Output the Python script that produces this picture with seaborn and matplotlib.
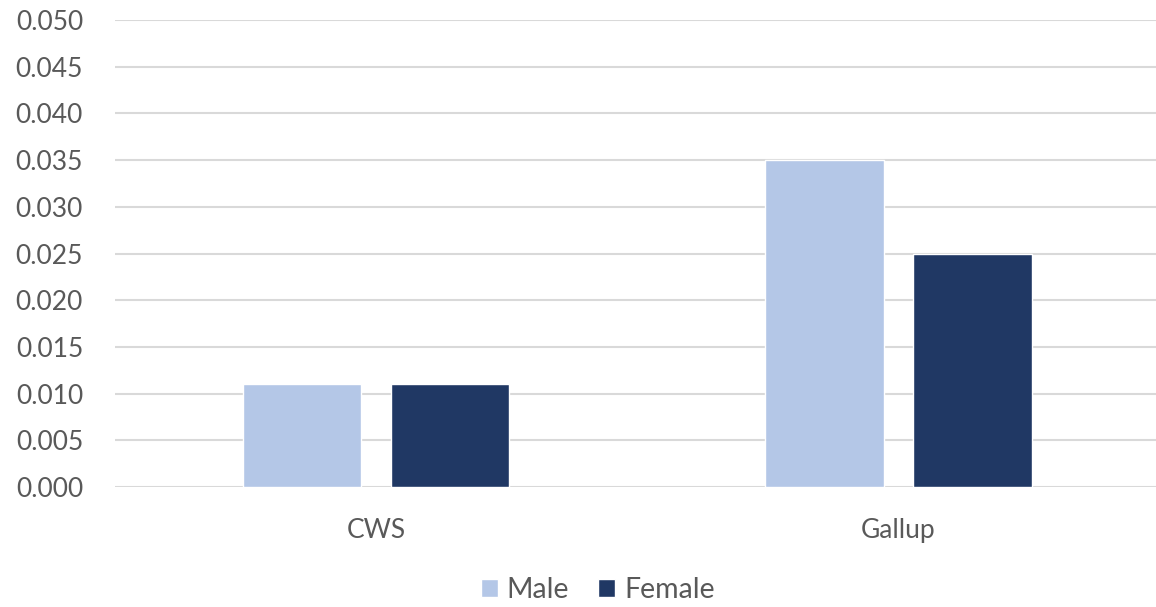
import pandas as pd
import matplotlib.pyplot as plt
import seaborn as sns

sources = ["CWS", "Gallup"]
male = [0.011, 0.035]
female = [0.011, 0.025]
yticks = [0.000, 0.005, 0.010, 0.015, 0.020, 0.025, 0.030, 0.035, 0.040, 0.045, 0.050]

df = pd.DataFrame({
    "source": sources * 2,
    "value": male + female,
    "sex": ["Male"] * len(sources) + ["Female"] * len(sources),
})

sns.set_style("white")
plt.rcParams["font.family"] = ["Lato", "DejaVu Sans"]
text_color = "#595959"

fig = plt.figure(figsize=(11.56, 6.07), dpi=100)
ax = fig.add_axes([115 / 1156, 1 - 487 / 607, 1 - 115 / 1156 + 0.003, 467 / 607])

sns.barplot(
    data=df, x="source", y="value", hue="sex",
    palette={"Male": "#B4C7E7", "Female": "#203864"},
    saturation=1, width=0.567, gap=0.2, ax=ax, legend=True, zorder=3,
)

ax.set_ylim(0, 0.050)
ax.set_xlim(-0.5, 1.5)
ax.set_yticks(yticks)
ax.set_yticklabels([f"{v:.3f}" for v in yticks])
ax.yaxis.grid(True, color="#D9D9D9", linewidth=1.5, zorder=0)
ax.set_axisbelow(True)
for s in ax.spines.values():
    s.set_visible(False)
ax.tick_params(axis="both", length=0, labelsize=19, labelcolor=text_color)
ax.tick_params(axis="y", pad=23)
ax.tick_params(axis="x", pad=22)
ax.set_xlabel("")
ax.set_ylabel("")

handles, labels = ax.get_legend_handles_labels()
ax.get_legend().remove()
fig.legend(
    handles, labels, loc="center", bbox_to_anchor=(0.517, 1 - 590 / 607),
    ncol=2, frameon=False, fontsize=20.5, labelcolor=text_color,
    handlelength=0.62, handleheight=0.62, handletextpad=0.3, columnspacing=1.0,
)

fig.savefig("out.png", dpi=100)
